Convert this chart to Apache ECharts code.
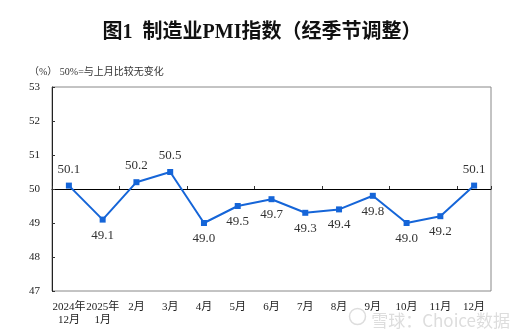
<!DOCTYPE html>
<html>
<head>
<meta charset="utf-8">
<script src="https://cdn.jsdelivr.net/npm/echarts@6/dist/echarts.min.js"></script>
<style>
  html, body { margin: 0; padding: 0; background: #fff; }
  #chart { width: 524px; height: 336px; }
</style>
</head>
<body>
<div id="chart"></div>
<script>
// Monthly manufacturing PMI, seasonally adjusted
const months = ['2024年\n12月', '2025年\n1月', '2月', '3月', '4月', '5月', '6月', '7月', '8月', '9月', '10月', '11月', '12月'];
const pmi = [50.1, 49.1, 50.2, 50.5, 49.0, 49.5, 49.7, 49.3, 49.4, 49.8, 49.0, 49.2, 50.1];
const yTicks = [47, 48, 49, 50, 51, 52, 53];
const threshold = 50;

const serif = '"Liberation Serif", "Noto Sans CJK SC", serif';
const chart = echarts.init(document.getElementById('chart'), null, { renderer: 'canvas' });

const gridTop = 87, gridBottom = 45;
const gridHeight = 336 - gridTop - gridBottom;
const yMin = yTicks[0], yMax = yTicks[yTicks.length - 1];
// offset of the 50 reference axis from the bottom edge of the grid
const refOffset = -gridHeight * (threshold - yMin) / (yMax - yMin);

chart.setOption({
  backgroundColor: '#fff',
  animation: false,
  title: [{
    text: '图1  制造业PMI指数（经季节调整）',
    left: 'center',
    top: 18,
    textStyle: { fontFamily: serif, fontSize: 20, fontWeight: 'bold', color: '#111' }
  }, {
    text: '（%） 50%=与上月比较无变化',
    left: 24,
    top: 62,
    textStyle: { fontFamily: serif, fontSize: 10, fontWeight: 'normal', color: '#333' }
  }],
  grid: {
    left: 52, right: 33, top: gridTop, bottom: gridBottom,
    show: true, borderColor: '#888', borderWidth: 1, backgroundColor: 'transparent'
  },
  xAxis: [{
    type: 'category',
    data: months,
    boundaryGap: true,
    axisLine: { show: false },
    axisTick: { show: false },
    axisLabel: { fontFamily: serif, fontSize: 11, color: '#222', margin: 10, lineHeight: 13, interval: 0 }
  }, {
    type: 'category',
    data: months,
    position: 'bottom',
    offset: refOffset,
    boundaryGap: true,
    axisLine: { show: true, lineStyle: { color: '#000', width: 1 } },
    axisTick: { show: true, inside: true, length: 3, lineStyle: { color: '#333' } },
    axisLabel: { show: false }
  }],
  yAxis: {
    type: 'value',
    min: yMin, max: yMax, interval: 1,
    axisLine: { show: true, lineStyle: { color: '#222' } },
    axisTick: { show: true, inside: true, length: 3, lineStyle: { color: '#333' } },
    splitLine: { show: false },
    axisLabel: { fontFamily: serif, fontSize: 11, color: '#222', margin: 12 }
  },
  series: [{
    type: 'line',
    xAxisIndex: 0,
    symbol: 'rect',
    symbolSize: 6,
    lineStyle: { color: '#1565d8', width: 2 },
    itemStyle: { color: '#1565d8' },
    label: {
      show: true,
      fontFamily: serif,
      fontSize: 13,
      color: '#333',
      formatter: p => p.value.toFixed(1)
    },
    data: pmi.map(v => ({
      value: v,
      label: v >= threshold ? { position: 'top', distance: 7 } : { position: 'bottom', distance: 6 }
    }))
  }],
  graphic: [{
    type: 'text',
    right: 14,
    bottom: 7,
    style: {
      text: '雪球：Choice数据',
      fontFamily: '"Noto Sans CJK SC", sans-serif',
      fontSize: 17,
      fill: '#ddd'
    }
  }, {
    type: 'circle',
    right: 156,
    bottom: 9,
    shape: { r: 8 },
    style: { fill: 'none', stroke: '#ddd', lineWidth: 1.5 }
  }]
});
</script>
</body>
</html>
